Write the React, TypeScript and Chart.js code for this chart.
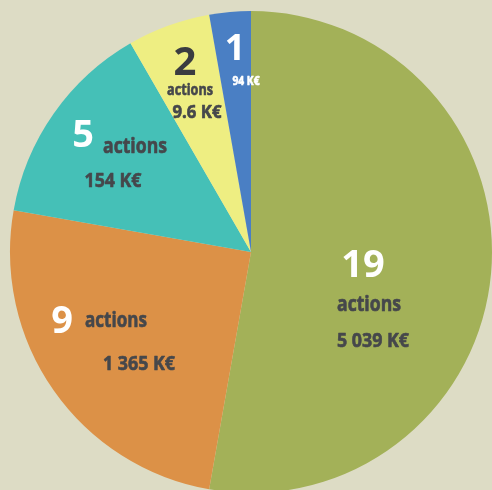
import React, { useEffect, useRef } from "react";
import { Chart, registerables } from "chart.js";

Chart.register(...registerables);

const categories = ["19 actions", "9 actions", "5 actions", "2 actions", "1 action"];
const actionCounts = [19, 9, 5, 2, 1];
const amountLabels = ["5 039 K€", "1 365 K€", "154 K€", "9.6 K€", "94 K€"];
const sliceColors = ["#a3b158", "#dc9147", "#45c0b7", "#eeee82", "#4a7fc4"];

// label layout (offsets from pie centre, font sizes, target widths for condensed text)
const labelLayout: any[] = [
  { c: [112, 14], a: [118, 53], m: [122, 89], cs: 38, as: 21, aw: 64, ms: 20, mw: 72, cc: "#ffffff", tc: "#45474b", act: true },
  { c: [-189, 70], a: [-135, 69], m: [-112, 112], cs: 38, as: 21, aw: 62, ms: 20, mw: 72, cc: "#ffffff", tc: "#45474b", act: true },
  { c: [-168, -116], a: [-116, -105], m: [-138, -71], cs: 38, as: 21, aw: 64, ms: 20, mw: 57, cc: "#ffffff", tc: "#45474b", act: true },
  { c: [-66, -188], a: [-61, -162], m: [-54, -139], cs: 40, as: 16, aw: 46, ms: 18, mw: 49, cc: "#3a3c40", tc: "#45474b", act: true },
  { c: [-16, -202], a: [0, 0], m: [-5, -170], cs: 36, as: 0, aw: 0, ms: 12, mw: 27, cc: "#ffffff", tc: "#ffffff", act: false },
];

function drawCondensed(ctx: any, text: string, x: number, y: number, size: number, width: number) {
  ctx.save();
  ctx.font = `bold ${size}px "Open Sans", "DejaVu Sans", sans-serif`;
  const w = ctx.measureText(text).width;
  const s = Math.min(1, width / w);
  ctx.translate(x, y);
  ctx.scale(s, 1);
  ctx.strokeStyle = ctx.fillStyle;
  ctx.lineWidth = 0.6;
  ctx.lineJoin = "round";
  ctx.strokeText(text, 0, 0);
  ctx.fillText(text, 0, 0);
  ctx.restore();
}

const labelPlugin = {
  id: "sliceLabels",
  afterDatasetsDraw(chart: any) {
    const ctx = chart.ctx;
    const meta = chart.getDatasetMeta(0);
    meta.data.forEach((arc: any, i: number) => {
      const cx = arc.x;
      const cy = arc.y;
      const L = labelLayout[i];
      ctx.save();
      ctx.textAlign = "center";
      ctx.textBaseline = "middle";
      ctx.fillStyle = L.cc;
      ctx.font = `bold ${L.cs}px "Open Sans", "DejaVu Sans", sans-serif`;
      ctx.fillText(String(actionCounts[i]), cx + L.c[0], cy + L.c[1]);
      ctx.fillStyle = L.tc;
      if (L.act) {
        drawCondensed(ctx, "actions", cx + L.a[0], cy + L.a[1], L.as, L.aw);
      }
      drawCondensed(ctx, amountLabels[i], cx + L.m[0], cy + L.m[1], L.ms, L.mw);
      ctx.restore();
    });
  },
};

export default function App() {
  const ref = useRef<HTMLCanvasElement>(null);
  useEffect(() => {
    document.body.style.margin = "0";
    document.body.style.background = "#dddcc5";
    document.body.style.overflow = "hidden";
    const chart = new Chart(ref.current!, {
      type: "pie",
      data: {
        labels: categories,
        datasets: [
          {
            data: actionCounts,
            backgroundColor: sliceColors,
            borderWidth: 0,
          },
        ],
      },
      options: {
        animation: false,
        responsive: false,
        layout: { padding: { left: 10, right: 0, top: 11, bottom: 1 } },
        plugins: { legend: { display: false }, tooltip: { enabled: false } },
      },
      plugins: [labelPlugin],
    });
    return () => chart.destroy();
  }, []);
  return (
    <div style={{ width: 492, height: 490, overflow: "hidden", background: "#dddcc5" }}>
      <canvas ref={ref} width={492} height={494} style={{ display: "block" }} />
    </div>
  );
}
